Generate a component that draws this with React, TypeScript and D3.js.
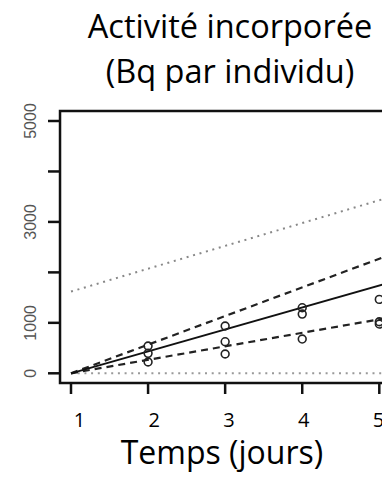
import React from "react";
import * as d3 from "d3";

const days = [1, 2, 3, 4, 5];
const obsDays = [2, 2, 2, 3, 3, 3, 4, 4, 4, 5, 5, 5];
const obsValues = [540, 396, 224, 937, 626, 382, 1300, 1174, 679, 1465, 1022, 976];
const lineDays = [1, 5];
const fitValues = [0, 1740];
const upperCI = [0, 2270];
const lowerCI = [0, 1070];
const upperPI = [1620, 3430];
const lowerPI = [0, 0];
const yTicks = [0, 1000, 2000, 3000, 4000, 5000];
const yLabels = ["0", "1000", "", "3000", "", "5000"];
const xLabels = ["1", "2", "3", "4", "5"];
const titleLines = ["Activité incorporée", "(Bq par individu)"];
const xTitle = "Temps (jours)";

const W = 382;
const H = 491;

export default function App() {
  const x = d3.scaleLinear().domain([1, 5]).range([71, 379.3]);
  const y = d3.scaleLinear().domain([0, 5000]).range([373.3, 121]);
  const xLab = d3.scaleLinear().domain([1, 5]).range([79.5, 378.5]);
  const boxLeft = x(1 - 0.1425);
  const boxRight = x(5.15);
  const boxTop = 111;
  const boxBottom = 383;

  const extend = (vals: number[]) => {
    const s = d3.scaleLinear().domain(lineDays).range(vals);
    return [1, 5.15].map((d) => [x(d), y(s(d))] as [number, number]);
  };
  const line = d3.line();

  const font = "'Open Sans', Lato, sans-serif";

  return (
    <svg
      width={W}
      height={H}
      style={{ position: "absolute", left: 0, top: 0, background: "#fff" }}
    >
      <defs>
        <clipPath id="plotclip">
          <rect x={boxLeft} y={boxTop} width={boxRight - boxLeft} height={boxBottom - boxTop} />
        </clipPath>
      </defs>
      {titleLines.map((t, i) => (
        <text
          key={i}
          x={230}
          y={38 + i * 45}
          textAnchor="middle"
          fontFamily={font}
          fontSize={32.5}
          fill="#000"
        >
          {t}
        </text>
      ))}
      <g clipPath="url(#plotclip)">
        <path d={line(extend(upperPI)) || ""} stroke="#888" strokeWidth={2} strokeDasharray="2 4.7" fill="none" />
        <path d={line(extend(lowerPI)) || ""} stroke="#999" strokeWidth={2} strokeDasharray="2 4.7" fill="none" />
        <path d={line(extend(upperCI)) || ""} stroke="#222" strokeWidth={2.2} strokeDasharray="7 5" fill="none" />
        <path d={line(extend(lowerCI)) || ""} stroke="#222" strokeWidth={2.2} strokeDasharray="7 5" fill="none" />
        <path d={line(extend(fitValues)) || ""} stroke="#111" strokeWidth={1.9} fill="none" />
        {obsValues.map((v, i) => (
          <circle key={i} cx={x(obsDays[i])} cy={y(v)} r={3.9} fill="none" stroke="#222" strokeWidth={1.6} />
        ))}
      </g>
      <rect
        x={boxLeft}
        y={boxTop}
        width={boxRight - boxLeft}
        height={boxBottom - boxTop}
        fill="none"
        stroke="#111"
        strokeWidth={2.5}
      />
      {yTicks.map((t, i) => (
        <g key={t}>
          <line x1={boxLeft - 12} x2={boxLeft} y1={y(t)} y2={y(t)} stroke="#111" strokeWidth={2.5} />
          {yLabels[i] && (
            <text
              transform={`translate(35.5,${y(t)}) rotate(-90)`}
              textAnchor="middle"
              fontFamily="'Liberation Sans', Arial, sans-serif"
              fontSize={16}
              fill="#555"
            >
              {yLabels[i]}
            </text>
          )}
        </g>
      ))}
      {days.map((d, i) => (
        <g key={d}>
          <line x1={x(d)} x2={x(d)} y1={boxBottom} y2={boxBottom + 11} stroke="#111" strokeWidth={2.5} />
          <text x={xLab(d)} y={427} textAnchor="middle" fontFamily={font} fontSize={20} fill="#000">
            {xLabels[i]}
          </text>
        </g>
      ))}
      <text x={222} y={464} textAnchor="middle" fontFamily={font} fontSize={32} fill="#000">
        {xTitle}
      </text>
    </svg>
  );
}
